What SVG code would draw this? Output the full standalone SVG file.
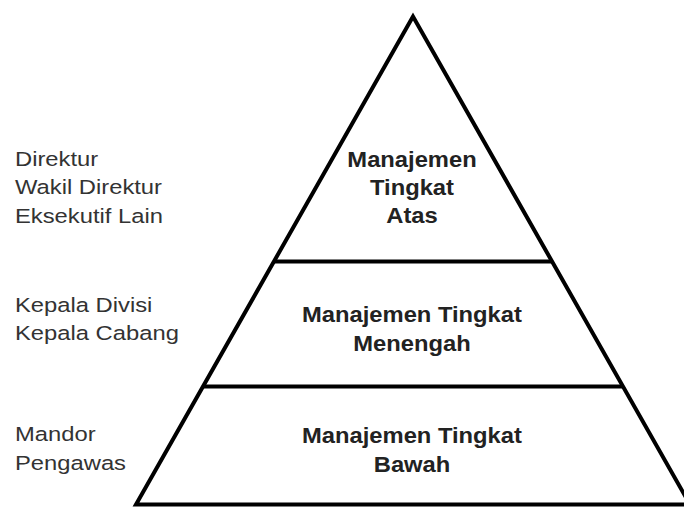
<svg xmlns="http://www.w3.org/2000/svg" width="684" height="507" viewBox="0 0 684 507">
  <style>
    .edge { fill: none; stroke: #000; stroke-width: 4; }
    .shape { fill: #fff; stroke: #000; stroke-width: 4; stroke-linejoin: miter; }
    .tier { font-family: "Liberation Sans", Arial, sans-serif; font-size: 22px; font-weight: bold; fill: #222; text-anchor: middle; }
    .role { font-family: "Liberation Sans", Arial, sans-serif; font-size: 20.5px; fill: #333; }
  </style>
  <rect width="684" height="507" fill="#fff"/>

  <!-- pyramid outline -->
  <g id="pyramid">
    <polygon class="shape" points="413,16.5 136,504.5 690,504.5"/>
  </g>

  <!-- tier separators -->
  <g id="connectors">
    <line class="edge" x1="274" y1="261.5" x2="552" y2="261.5"/>
    <line class="edge" x1="203" y1="386.5" x2="623" y2="386.5"/>
  </g>

  <!-- tiers (slightly widened lettering) -->
  <g id="tier-top" transform="translate(412,0) scale(1.08,1)">
    <text class="tier" x="0" y="167">Manajemen</text>
    <text class="tier" x="0" y="195">Tingkat</text>
    <text class="tier" x="0" y="223">Atas</text>
  </g>
  <g id="tier-middle" transform="translate(412,0) scale(1.08,1)">
    <text class="tier" x="0" y="322">Manajemen Tingkat</text>
    <text class="tier" x="0" y="351">Menengah</text>
  </g>
  <g id="tier-bottom" transform="translate(412,0) scale(1.08,1)">
    <text class="tier" x="0" y="443">Manajemen Tingkat</text>
    <text class="tier" x="0" y="472">Bawah</text>
  </g>

  <!-- role lists -->
  <g id="roles-top" transform="translate(15,0) scale(1.16,1)">
    <text class="role" x="0" y="166">Direktur</text>
    <text class="role" x="0" y="194.5">Wakil Direktur</text>
    <text class="role" x="0" y="223">Eksekutif Lain</text>
  </g>
  <g id="roles-middle" transform="translate(15,0) scale(1.16,1)">
    <text class="role" x="0" y="312">Kepala Divisi</text>
    <text class="role" x="0" y="340.5">Kepala Cabang</text>
  </g>
  <g id="roles-bottom" transform="translate(15,0) scale(1.16,1)">
    <text class="role" x="0" y="441.5">Mandor</text>
    <text class="role" x="0" y="470">Pengawas</text>
  </g>
</svg>
